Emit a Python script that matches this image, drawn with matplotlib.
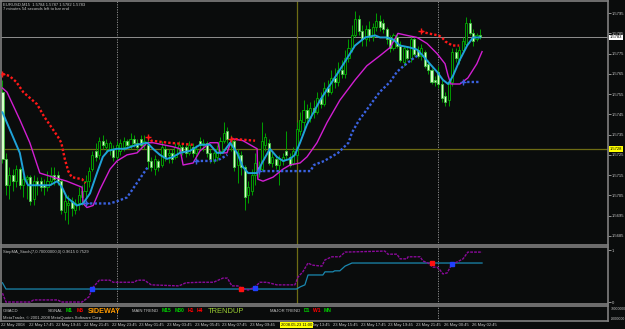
import matplotlib.pyplot as plt
from matplotlib.patches import Rectangle

W, H = 625, 329
BG = '#0a0c0c'
NaN = float('nan')

plt.rcParams['font.family'] = ['Liberation Sans', 'DejaVu Sans']

# EURUSD M15 candles, 22 May 2008 15:45 -> 26 May 2008 03:00
opens = [1.5756, 1.5723, 1.5710, 1.5715, 1.5712, 1.5718, 1.5710, 1.5713, 1.5714, 1.5703,
         1.5712, 1.5712, 1.5710, 1.5709, 1.5712, 1.5715, 1.5715, 1.5712, 1.5697, 1.5700,
         1.5702, 1.5698, 1.5701, 1.5704, 1.5707, 1.5712, 1.5718, 1.5727, 1.5725, 1.5732,
         1.5729, 1.5728, 1.5728, 1.5724, 1.5727, 1.5729, 1.5732, 1.5730, 1.5733, 1.5731,
         1.5733, 1.5730, 1.5730, 1.5722, 1.5718, 1.5722, 1.5720, 1.5728, 1.5725, 1.5726,
         1.5724, 1.5728, 1.5729, 1.5729, 1.5726, 1.5729, 1.5726, 1.5732, 1.5730, 1.5731,
         1.5726, 1.5722, 1.5724, 1.5727, 1.5732, 1.5737, 1.5730, 1.5732, 1.5720, 1.5725,
         1.5719, 1.5705, 1.5707, 1.5715, 1.5719, 1.5718, 1.5730, 1.5731, 1.5721, 1.5723,
         1.5720, 1.5722, 1.5727, 1.5724, 1.5721, 1.5725, 1.5737, 1.5741, 1.5747, 1.5743,
         1.5748, 1.5746, 1.5753, 1.5750, 1.5758, 1.5756, 1.5763, 1.5761, 1.5767, 1.5765,
         1.5773, 1.5778, 1.5784, 1.5792, 1.5786, 1.5782, 1.5787, 1.5783, 1.5788, 1.5791,
         1.5790, 1.5787, 1.5782, 1.5778, 1.5783, 1.5779, 1.5771, 1.5777, 1.5773, 1.5782,
         1.5777, 1.5774, 1.5776, 1.5770, 1.5767, 1.5762, 1.5766, 1.5760, 1.5754, 1.5752,
         1.5761, 1.5776, 1.5772, 1.5777, 1.5780, 1.5790, 1.5785, 1.5782, 1.5784]
highs = [1.5762, 1.5726, 1.5719, 1.5718, 1.5720, 1.5719, 1.5715, 1.5715, 1.5715, 1.5715,
         1.5714, 1.5714, 1.5713, 1.5717, 1.5719, 1.5719, 1.5717, 1.5713, 1.5705, 1.5705,
         1.5704, 1.5703, 1.5709, 1.5710, 1.5715, 1.5719, 1.5727, 1.5731, 1.5734, 1.5735,
         1.5733, 1.5732, 1.5730, 1.5732, 1.5733, 1.5734, 1.5733, 1.5736, 1.5735, 1.5733,
         1.5735, 1.5735, 1.5734, 1.5724, 1.5725, 1.5723, 1.5732, 1.5730, 1.5728, 1.5728,
         1.5731, 1.5732, 1.5731, 1.5731, 1.5732, 1.5731, 1.5730, 1.5734, 1.5733, 1.5732,
         1.5728, 1.5727, 1.5730, 1.5734, 1.5741, 1.5739, 1.5735, 1.5733, 1.5728, 1.5727,
         1.5720, 1.5712, 1.5718, 1.5726, 1.5722, 1.5741, 1.5736, 1.5733, 1.5727, 1.5725,
         1.5725, 1.5726, 1.5737, 1.5726, 1.5729, 1.5741, 1.5746, 1.5752, 1.5750, 1.5751,
         1.5752, 1.5756, 1.5756, 1.5761, 1.5762, 1.5767, 1.5768, 1.5771, 1.5772, 1.5777,
         1.5782, 1.5789, 1.5796, 1.5794, 1.5789, 1.5789, 1.5791, 1.5790, 1.5795, 1.5794,
         1.5792, 1.5788, 1.5784, 1.5785, 1.5785, 1.5781, 1.5779, 1.5779, 1.5783, 1.5783,
         1.5779, 1.5780, 1.5777, 1.5772, 1.5768, 1.5764, 1.5769, 1.5762, 1.5756, 1.5762,
         1.5778, 1.5778, 1.5779, 1.5783, 1.5793, 1.5792, 1.5787, 1.5785, 1.5787]
lows = [1.5721, 1.5705, 1.5703, 1.5707, 1.5709, 1.5708, 1.5704, 1.5703, 1.5700, 1.5700,
        1.5705, 1.5707, 1.5705, 1.5707, 1.5710, 1.5710, 1.5710, 1.5696, 1.5693, 1.5691,
        1.5695, 1.5696, 1.5698, 1.5700, 1.5704, 1.5709, 1.5717, 1.5722, 1.5723, 1.5728,
        1.5726, 1.5725, 1.5722, 1.5722, 1.5725, 1.5727, 1.5728, 1.5728, 1.5729, 1.5727,
        1.5728, 1.5728, 1.5718, 1.5717, 1.5715, 1.5717, 1.5719, 1.5722, 1.5721, 1.5721,
        1.5723, 1.5726, 1.5725, 1.5724, 1.5725, 1.5724, 1.5722, 1.5728, 1.5727, 1.5724,
        1.5721, 1.5721, 1.5722, 1.5725, 1.5731, 1.5731, 1.5727, 1.5717, 1.5711, 1.5715,
        1.5698, 1.5701, 1.5705, 1.5710, 1.5714, 1.5717, 1.5727, 1.5720, 1.5719, 1.5718,
        1.5710, 1.5720, 1.5723, 1.5719, 1.5720, 1.5723, 1.5735, 1.5738, 1.5741, 1.5741,
        1.5743, 1.5745, 1.5748, 1.5749, 1.5754, 1.5755, 1.5758, 1.5759, 1.5763, 1.5763,
        1.5771, 1.5776, 1.5783, 1.5784, 1.5779, 1.5779, 1.5781, 1.5781, 1.5786, 1.5786,
        1.5785, 1.5780, 1.5776, 1.5777, 1.5778, 1.5771, 1.5769, 1.5772, 1.5771, 1.5774,
        1.5773, 1.5772, 1.5768, 1.5765, 1.5760, 1.5759, 1.5758, 1.5751, 1.5749, 1.5749,
        1.5759, 1.5771, 1.5770, 1.5776, 1.5779, 1.5784, 1.5779, 1.5781, 1.5782]
closes = [1.5723, 1.5710, 1.5715, 1.5712, 1.5718, 1.5710, 1.5713, 1.5714, 1.5702, 1.5712,
          1.5710, 1.5709, 1.5709, 1.5712, 1.5715, 1.5713, 1.5712, 1.5698, 1.5702, 1.5701,
          1.5699, 1.5701, 1.5705, 1.5707, 1.5712, 1.5717, 1.5725, 1.5724, 1.5732, 1.5730,
          1.5731, 1.5731, 1.5724, 1.5730, 1.5731, 1.5732, 1.5730, 1.5733, 1.5731, 1.5729,
          1.5730, 1.5732, 1.5722, 1.5719, 1.5723, 1.5719, 1.5729, 1.5724, 1.5726, 1.5723,
          1.5729, 1.5730, 1.5727, 1.5726, 1.5730, 1.5726, 1.5728, 1.5730, 1.5731, 1.5726,
          1.5723, 1.5726, 1.5728, 1.5732, 1.5736, 1.5733, 1.5733, 1.5719, 1.5726, 1.5719,
          1.5704, 1.5709, 1.5715, 1.5721, 1.5717, 1.5732, 1.5734, 1.5721, 1.5724, 1.5720,
          1.5723, 1.5724, 1.5725, 1.5720, 1.5727, 1.5738, 1.5742, 1.5747, 1.5743, 1.5748,
          1.5746, 1.5753, 1.5750, 1.5758, 1.5756, 1.5763, 1.5761, 1.5767, 1.5765, 1.5773,
          1.5778, 1.5784, 1.5792, 1.5786, 1.5782, 1.5787, 1.5783, 1.5788, 1.5791, 1.5788,
          1.5787, 1.5782, 1.5778, 1.5784, 1.5779, 1.5772, 1.5778, 1.5773, 1.5782, 1.5775,
          1.5774, 1.5778, 1.5769, 1.5767, 1.5761, 1.5761, 1.5760, 1.5753, 1.5751, 1.5760,
          1.5776, 1.5773, 1.5777, 1.5781, 1.5790, 1.5785, 1.5781, 1.5784, 1.5783]

# fast MA (cyan) and slow MA (magenta), read at bar positions
fast_bars = [0, 5, 6.5, 7.4, 13.7, 15.8, 17.2, 18.6, 21.5, 23.3, 25.3, 27.3, 29, 30.5, 33, 35.4,
             38.9, 41.8, 43.5, 45.5, 47.5, 49.3, 51.3, 54.2, 57.1, 60, 62, 63.7, 65.8, 67.8, 69.5,
             71, 73.6, 75, 77.3, 79.3, 81.1, 83.1, 84.5, 86, 88, 91.8, 97.5, 101.9, 104.8, 107.7,
             109.1, 111.1, 112.9, 114.9, 117.8, 119.8, 121.5, 123.5, 125.6, 127.3, 128.8, 130.2,
             132.2, 134.3, 136, 138]
fast_ma = [1.5746, 1.5726, 1.5713, 1.5710, 1.5710, 1.5712, 1.5709, 1.5704, 1.5700, 1.5701, 1.5706,
           1.5716, 1.5724, 1.5727, 1.5728, 1.5728, 1.5730, 1.5731, 1.5728, 1.5725, 1.5723, 1.5724,
           1.5726, 1.5727, 1.5730, 1.5730, 1.5726, 1.5726, 1.5731, 1.5726, 1.5719, 1.5716, 1.5716,
           1.5721, 1.5728, 1.5724, 1.5722, 1.5723, 1.5725, 1.5731, 1.5740, 1.5752, 1.5767, 1.5779,
           1.5783, 1.5784, 1.5783, 1.5783, 1.5782, 1.5779, 1.5778, 1.5777, 1.5774, 1.5770, 1.5766,
           1.5762, 1.5760, 1.5764, 1.5772, 1.5779, 1.5783, 1.5783]
slow_bars = [0, 1.3, 5.1, 7.9, 10.8, 14.6, 18.6, 23, 23.3, 24.4, 26.2, 28.2, 31.1, 33.1, 36, 38.9,
             41.8, 43.5, 46.4, 49.3, 51.3, 52.2, 55.1, 57.1, 60, 62.3, 62.9, 64.9, 66.3, 69.5, 73.6,
             73.8, 75.3, 78.2, 81.1, 83.1, 86, 88, 90.9, 93.8, 97.5, 101.9, 105.3, 109.1, 112, 114.3,
             116.9, 119.8, 122.7, 125.6, 127.9, 128.8, 129.6, 132.2, 134.5, 137.1, 138.6]
slow_ma = [1.5758, 1.5756, 1.5742, 1.5731, 1.5716, 1.5714, 1.5712, 1.5709, 1.5701, 1.5699, 1.5700,
           1.5708, 1.5718, 1.5722, 1.5725, 1.5726, 1.5731, 1.5731, 1.5730, 1.5729, 1.5728, 1.5720,
           1.5721, 1.5727, 1.5731, 1.5731, 1.5726, 1.5726, 1.5733, 1.5732, 1.5728, 1.5713, 1.5712,
           1.5714, 1.5718, 1.5720, 1.5721, 1.5724, 1.5731, 1.5741, 1.5752, 1.5762, 1.5769, 1.5774,
           1.5778, 1.5785, 1.5784, 1.5783, 1.5780, 1.5775, 1.5770, 1.5764, 1.5760, 1.5760, 1.5763,
           1.5770, 1.5776]

# step line, red (above price) and blue (below price) segments
red_bars = [0, 2, 4, 6, 8, 10, 12, 14, 16, 17, 18, 19, 20, 23, 24, NaN,
            42, 43, 48, 55, NaN, 66, 73, NaN, 121, 123, 126, 127, 128, 130, 132]
red_step = [1.5765, 1.5764, 1.5761, 1.5756, 1.5753, 1.5750, 1.5744, 1.5739, 1.5734, 1.5731,
            1.5723, 1.5717, 1.5714, 1.5713, 1.5711, NaN,
            1.5734, 1.5732, 1.5731, 1.5730, NaN, 1.5733, 1.5732, NaN,
            1.5786, 1.5785, 1.5784, 1.5783, 1.5781, 1.5779, 1.5779]
blue_bars = [24, 31, 33, 36, 38, 40, 42, NaN, 56, 61, 63, 65, NaN,
             74, 89, 90, 93, 95, 97, 100, 101, 103, 106, 109, 112, 114, 116, 119, 120, NaN, 133, 138]
blue_step = [1.5701, 1.5701, 1.5702, 1.5704, 1.5709, 1.5714, 1.5719, NaN,
             1.5722, 1.5722, 1.5723, 1.5725, NaN,
             1.5717, 1.5717, 1.5720, 1.5722, 1.5724, 1.5726, 1.5731, 1.5736, 1.5742, 1.5749,
             1.5756, 1.5761, 1.5766, 1.5769, 1.5773, 1.5774, NaN, 1.5761, 1.5761]

# StepMA_Stoch sub window
stoch_bars = [0, 1, 8, 9, 16, 17, 23, 25, 26, 28, 31, 32, 38, 39, 41, 43, 51, 53, 57, 61, 63.7, 65,
              66.3, 68, 69, 71, 73, 74.4, 76.4, 79.3, 84.5, 85.4, 86.8, 88.3, 89.5, 92.3, 93.2, 95.2,
              97.5, 99, 110.5, 111.4, 114, 114.9, 116.9, 117.2, 120.7, 121.5, 123, 124.4, 125.6,
              126.4, 127.3, 128.5, 129.9, 131.4, 133.1, 134.5, 136, 138.6]
stoch_main = [0.17, 0.0, 0.0, 0.04, 0.04, 0.0, 0.0, 0.10, 0.27, 0.42, 0.42, 0.38, 0.38, 0.42, 0.42,
              0.33, 0.31, 0.37, 0.38, 0.38, 0.46, 0.46, 0.31, 0.31, 0.27, 0.23, 0.29, 0.38, 0.38,
              0.33, 0.33, 0.48, 0.58, 0.75, 0.71, 0.69, 0.81, 0.87, 0.87, 0.96, 0.98, 0.92, 0.92,
              0.83, 0.83, 0.87, 0.87, 0.79, 0.75, 0.67, 0.67, 0.62, 0.54, 0.56, 0.73, 0.77, 0.83,
              0.96, 0.96, 0.96]
step_bars = [0, 1, 85, 86, 87.4, 88.3, 92.6, 93.2, 95.5, 96, 97.5, 99, 101, 138.6]
stoch_step = [0.37, 0.25, 0.25, 0.29, 0.33, 0.52, 0.52, 0.58, 0.58, 0.60, 0.60, 0.69, 0.75, 0.75]
sell_bars = [69, 124]
sell_vals = [0.25, 0.75]
buy_bars = [26, 73, 130]
buy_vals = [0.25, 0.27, 0.73]

price_ticks = [1.5685, 1.5695, 1.5705, 1.5715, 1.5725, 1.5735,
               1.5745, 1.5755, 1.5765, 1.5775, 1.5785, 1.5795]
# the 11:45 label sits under the crosshair date box
date_bars = [0, 8, 16, 24, 32, 40, 48, 56, 64, 72, 88, 96, 104, 112, 120, 128, 136]
date_labels = ['22 May 2008', '22 May 17:45', '22 May 19:45', '22 May 21:45', '22 May 23:45',
               '23 May 01:45', '23 May 03:45', '23 May 05:45', '23 May 07:45', '23 May 09:45',
               '23 May 13:45', '23 May 15:45', '23 May 17:45', '23 May 19:45',
               '23 May 21:45', '26 May 00:45', '26 May 02:45']
day_breaks = [33, 126]
CROSS_BAR = 85
CROSS_PRICE = 1.5728
FS = 3.0

fig = plt.figure(figsize=(W / 100, H / 100), dpi=100, facecolor=BG)


def px_axes(x0, y0, x1, y1):
    a = fig.add_axes([x0 / W, 1 - y1 / H, (x1 - x0) / W, (y1 - y0) / H])
    a.set_facecolor(BG)
    for s in a.spines.values():
        s.set_color('#808080')
        s.set_linewidth(1.2)
    a.set_xlim(-0.43, 175.0)
    a.set_xticks([])
    return a


def ftext(x, y, s, **kw):
    kw.setdefault('fontsize', FS)
    kw.setdefault('color', '#c8c8c8')
    fig.text(x / W, 1 - y / H, s, va='center', ha='left', **kw)


ax = px_axes(1, 1, 608, 245)
ax2 = px_axes(1, 247, 608, 304)
ax3 = px_axes(1, 306, 608, 321)

# main chart
ax.set_ylim(1.568049, 1.580099)
for i, (o, h, l, c) in enumerate(zip(opens, highs, lows, closes)):
    bull = c >= o
    ax.vlines(i, l, h, color='#00a000', lw=0.7, zorder=2)
    ax.add_patch(Rectangle((i - 0.3, min(o, c)), 0.6, max(abs(c - o), 0.00003),
                           facecolor=BG if bull else '#d6ffc8',
                           edgecolor='#00b000' if bull else '#40c040', lw=0.6, zorder=2.5))

ax.plot(slow_bars, slow_ma, color='#d21ed2', lw=1.0, zorder=4)
ax.plot(fast_bars, fast_ma, color='#1fa2d8', lw=1.4, zorder=4)
ax.plot(red_bars, red_step, color='#ff1818', lw=1.7, ls=(0, (1, 0.9)), zorder=4)
ax.plot(blue_bars, blue_step, color='#3a62e0', lw=1.7, ls=(0, (1, 0.9)), zorder=4)
for bars, vals, col in ((red_bars, red_step, '#ff1818'), (blue_bars, blue_step, '#3a62e0')):
    for k in range(len(bars)):
        if k == 0 or bars[k - 1] != bars[k - 1]:
            ax.plot(bars[k], vals[k], marker='+', ms=4, mew=1, color=col, zorder=5)

ax.axhline(closes[-1], color='#909090', lw=0.7, zorder=1.5)
ax.axhline(CROSS_PRICE, color='#6e6c14', lw=0.9, zorder=1.6)
for a in (ax, ax2):
    a.axvline(CROSS_BAR, color='#6e6c14', lw=0.9, zorder=1.6)
for a in (ax, ax2, ax3):
    for b in day_breaks:
        a.axvline(b, color='#9a9a9a', lw=0.6, ls=(0, (1.5, 1.5)), zorder=1.4)

ax.yaxis.tick_right()
ax.set_yticks(price_ticks)
ax.set_yticklabels(['%.4f' % t for t in price_ticks])
ax.tick_params(axis='y', colors='#c8c8c8', labelsize=FS, length=2, width=0.5, pad=0.8)

ax.text(1.003, closes[-1], '%.4f' % closes[-1], transform=ax.get_yaxis_transform(),
        fontsize=FS, color='black', va='center', ha='left', zorder=10,
        bbox=dict(facecolor='white', edgecolor='none', pad=0.5))
ax.text(1.003, CROSS_PRICE, '%.4f' % CROSS_PRICE, transform=ax.get_yaxis_transform(),
        fontsize=FS, color='black', va='center', ha='left', zorder=10,
        bbox=dict(facecolor='#ffff00', edgecolor='none', pad=0.5))

# StepMA_Stoch window
ax2.set_ylim(-0.038, 1.058)
ax2.plot(step_bars, stoch_step, color='#1a88b0', lw=0.9, zorder=3)
ax2.plot(stoch_bars, stoch_main, color='#8a0a9a', lw=1.0, ls=(0, (2, 0.8)), zorder=3)
ax2.plot(sell_bars, sell_vals, ls='none', marker='s', ms=2.2, color='#ff1010', zorder=4)
ax2.plot(buy_bars, buy_vals, ls='none', marker='s', ms=2.2, color='#2040ff', zorder=4)
ax2.yaxis.tick_right()
ax2.set_yticks([0, 1])
ax2.set_yticklabels(['0', '1'])
ax2.tick_params(axis='y', colors='#c8c8c8', labelsize=FS, length=2, width=0.5, pad=0.8)

# GMACD window
ax3.set_ylim(0, 1)
ax3.set_yticks([])

# date axis
for b, s in zip(date_bars, date_labels):
    ax3.text(b - 0.45, -0.27, s, transform=ax3.get_xaxis_transform(), fontsize=FS,
             color='#c8c8c8', va='center', ha='left')
ax3.text(CROSS_BAR, -0.27, '2008.05.23 11:00', transform=ax3.get_xaxis_transform(),
         fontsize=FS, color='black', va='center', ha='center', zorder=10,
         bbox=dict(facecolor='#ffff00', edgecolor='none', pad=0.5))

# header and labels
ftext(3, 4.5, 'EURUSD,M15  1.5784 1.5787 1.5782 1.5783')
ftext(3, 9.5, '7 minutes 54 seconds left to bar end')
ftext(3, 251.5, 'StepMA_Stoch(7,0.70000000,0) 0.9615 0.7529')
ftext(3, 311, 'GMACD')
ftext(48, 311, 'SIGNAL')
ftext(66, 311, 'M1', color='#00d000', fontsize=3.6, weight='bold')
ftext(77, 311, 'M5', color='#ff0000', fontsize=3.6, weight='bold')
ftext(88, 311.5, 'SIDEWAY', color='#ff9a00', fontsize=5.2, weight='bold')
ftext(132, 311, 'MAIN TREND')
ftext(162, 311, 'M15', color='#00d000', fontsize=3.6, weight='bold')
ftext(175, 311, 'M30', color='#00d000', fontsize=3.6, weight='bold')
ftext(188, 311, 'H1', color='#ff0000', fontsize=3.6, weight='bold')
ftext(197, 311, 'H4', color='#ff0000', fontsize=3.6, weight='bold')
ftext(208, 311.5, 'TRENDUP', color='#9acd32', fontsize=5.4)
ftext(270, 311, 'MAJOR TREND')
ftext(304, 311, 'D1', color='#00d000', fontsize=3.6, weight='bold')
ftext(313, 311, 'W1', color='#ff0000', fontsize=3.6, weight='bold')
ftext(324, 311, 'MN', color='#00d000', fontsize=3.6, weight='bold')
ftext(3, 318, 'MetaTrader, \u00a9 2001-2008 MetaQuotes Software Corp.')
ftext(611, 309.5, '79000000', fontsize=2.4)
ftext(611, 319, '-9000000', fontsize=2.4)

fig.savefig('out.png', dpi=100, facecolor=BG)
